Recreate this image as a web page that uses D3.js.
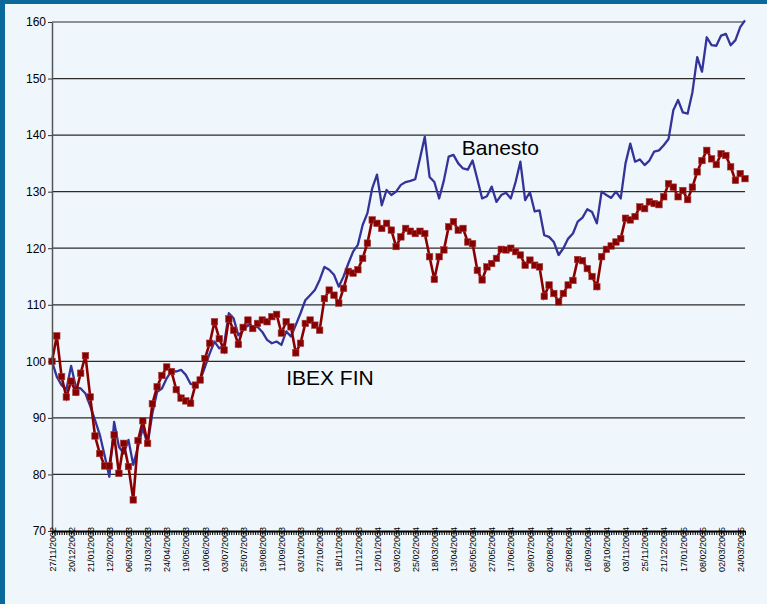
<!DOCTYPE html>
<html lang="en">
    <head>
        <meta http-equiv="Content-Type" content="text/html; charset=UTF-8" />
        <title>Banesto vs IBEX FIN</title>
        <script src="https://cdn.jsdelivr.net/npm/d3@7/dist/d3.min.js"></script>
        <style>
            html, body { margin: 0; padding: 0; background: #f0f7fc; }
            svg { display: block; font-family: Arial, "Liberation Sans", sans-serif; }
        </style>
        <script>
            // tick labels, one every 16 trading days
            const dateLabels = [
                '27/11/2002', '20/12/2002', '21/01/2003', '12/02/2003', '06/03/2003', '31/03/2003',
                '24/04/2003', '19/05/2003', '10/06/2003', '03/07/2003', '25/07/2003', '19/08/2003',
                '11/09/2003', '03/10/2003', '27/10/2003', '18/11/2003', '11/12/2003', '12/01/2004',
                '03/02/2004', '25/02/2004', '18/03/2004', '13/04/2004', '05/05/2004', '27/05/2004',
                '17/06/2004', '09/07/2004', '02/08/2004', '25/08/2004', '16/09/2004', '08/10/2004',
                '03/11/2004', '25/11/2004', '21/12/2004', '17/01/2005', '08/02/2005', '02/03/2005',
                '24/03/2005'
            ]
            const labelEvery = 16
            const tradingDays = 581
            const sampleEvery = 4   // values below are read every 4th trading day

            const yTicks = [70, 80, 90, 100, 110, 120, 130, 140, 150, 160]

            const banesto = [
                100, 97.3, 95.8, 95, 99.2, 95.4, 95.2, 94.3, 92.1, 89.6,
                87, 83.4, 79.6, 89.3, 84.9, 83.7, 86.1, 81.7, 84.9, 88.2,
                85.3, 90.8, 94.6, 95.2, 97, 98.3, 98.2, 98.5, 97.6, 96,
                95.8, 96.7, 99, 101.4, 103.5, 102.3, 102.9, 108.5, 107.6, 104.6,
                105.5, 106.4, 106.1, 106.1, 105.2, 103.8, 103.2, 103.5, 102.9, 105.3,
                104.4, 106.4, 108.5, 110.8, 111.7, 112.6, 114.4, 116.7, 116.2, 115.3,
                113.2, 115, 117.3, 119.4, 120.6, 124.1, 126.2, 130.6, 133, 127.6,
                130.3, 129.4, 130, 131.2, 131.7, 131.9, 132.2, 135.9, 139.7, 132.6,
                131.7, 128.8, 132, 136.2, 136.5, 135, 134.1, 133.9, 135.5, 132.2,
                128.8, 129.2, 130.9, 128.2, 129.4, 129.8, 128.8, 131.7, 135.3, 128.5,
                129.9, 126.5, 126.7, 122.3, 122, 121.1, 118.8, 120, 121.7, 122.6,
                124.7, 125.4, 126.9, 126.4, 124.4, 130, 129.4, 128.9, 130, 128.8,
                135, 138.5, 135.3, 135.7, 134.7, 135.5, 137.1, 137.3, 138.2, 139.3,
                144.4, 146.2, 144, 143.8, 147.6, 153.8, 151.2, 157.3, 155.9, 155.8,
                157.6, 157.9, 155.9, 156.8, 159.1, 160.3
            ]

            const ibexFin = [
                100, 104.5, 97.3, 93.7, 96.5, 94.5, 97.9, 101, 93.7, 86.8,
                83.7, 81.5, 81.5, 87, 80.2, 85.5, 81.4, 75.5, 86, 89.5,
                85.5, 92.5, 95.5, 97.5, 99, 98.2, 95, 93.5, 93, 92.6,
                95.8, 96.7, 100.5, 103.2, 107, 104, 102, 107.5, 105.5, 103,
                106, 107.3, 105.8, 106.7, 107.3, 107, 107.9, 108.3, 105, 107,
                106.1, 101.5, 103.2, 106.7, 107.3, 106.4, 105.5, 111.1, 112.6, 111.7,
                110.3, 112.9, 115.9, 115.6, 116.2, 118.2, 120.9, 125, 124.4, 123.5,
                124.4, 123.2, 120.3, 122, 123.5, 123, 122.6, 123, 122.6, 118.5,
                114.5, 118.5, 119.7, 123.8, 124.7, 123.2, 123.5, 121.1, 120.8, 116.1,
                114.4, 116.7, 117.3, 118.2, 119.8, 119.7, 120, 119.4, 118.8, 117,
                117.9, 117, 116.7, 111.5, 113.5, 112, 110.5, 112, 113.5, 114.3,
                118, 117.8, 116.4, 115, 113.2, 118.5, 119.8, 120.4, 121.1, 121.7,
                125.3, 125, 125.6, 127.3, 127, 128.2, 127.9, 127.7, 129.1, 131.4,
                130.8, 129.1, 130.2, 128.6, 130.8, 133.5, 135.5, 137.3, 135.8, 134.8,
                136.7, 136.4, 134.4, 132, 133.2, 132.3
            ]

            const state = {
                dim: [767, 604],
                margin: { top: 22, right: 22, bottom: 73, left: 52 },
                scales: { x: null, y: null }
            }

            window.onload = () => {
                draw()
            }

            function setScales() {
                const m = state.margin
                state.scales.x = d3.scaleLinear()
                    .domain([0, tradingDays - 1])
                    .range([m.left, state.dim[0] - m.right])
                state.scales.y = d3.scaleLinear()
                    .domain([70, 160])
                    .range([state.dim[1] - m.bottom, m.top])
            }

            function draw() {
                setScales()
                const x = state.scales.x
                const y = state.scales.y
                const m = state.margin
                const svg = d3.select('#chart')
                    .attr('width', state.dim[0])
                    .attr('height', state.dim[1])

                // frame
                svg.append('rect').attr('x', 0).attr('y', 0).attr('width', state.dim[0]).attr('height', state.dim[1]).style('fill', '#f0f7fc')
                svg.append('rect').attr('x', 0).attr('y', 0).attr('width', state.dim[0]).attr('height', 4).style('fill', '#0b689a')
                svg.append('rect').attr('x', 0).attr('y', 0).attr('width', 5).attr('height', state.dim[1]).style('fill', '#0b689a')

                // horizontal grid
                svg.append('g')
                    .selectAll('line')
                    .data(yTicks.filter(d => d > 70))
                    .enter()
                        .append('line')
                        .attr('x1', m.left)
                        .attr('x2', state.dim[0] - m.right)
                        .attr('y1', d => y(d))
                        .attr('y2', d => y(d))
                        .style('stroke', '#2a2a2a')
                        .style('stroke-width', 1.2)

                const bPoints = banesto.map((v, i) => ({ day: i * sampleEvery, value: v }))
                const iPoints = ibexFin.map((v, i) => ({ day: i * sampleEvery, value: v }))

                const line = d3.line()
                    .x(d => x(d.day))
                    .y(d => y(d.value))

                svg.append('path')
                    .datum(bPoints)
                    .attr('d', line)
                    .style('fill', 'none')
                    .style('stroke', '#33339a')
                    .style('stroke-width', 2.3)
                    .style('stroke-linejoin', 'round')

                svg.append('path')
                    .datum(iPoints)
                    .attr('d', line)
                    .style('fill', 'none')
                    .style('stroke', '#8a0000')
                    .style('stroke-width', 2.6)

                const sq = 6.5
                svg.append('g')
                    .selectAll('rect')
                    .data(iPoints)
                    .enter()
                        .append('rect')
                        .attr('x', d => x(d.day) - sq / 2)
                        .attr('y', d => y(d.value) - sq / 2)
                        .attr('width', sq)
                        .attr('height', sq)
                        .style('fill', '#860000')
                        .style('stroke', '#a83a3a')
                        .style('stroke-width', 0.6)

                // y axis
                const yAxis = svg.append('g')
                    .attr('transform', `translate(${m.left},0)`)
                    .call(d3.axisLeft(y).tickValues(yTicks).tickSize(4).tickPadding(2).tickSizeOuter(0))
                yAxis.select('.domain').style('stroke', '#555').style('stroke-width', 1.5)
                yAxis.selectAll('.tick line').style('stroke', '#333')
                yAxis.selectAll('text')
                    .style('font-size', '12px')
                    .style('font-family', 'Arial, "Liberation Sans", sans-serif')
                    .style('fill', '#000')

                // x axis: dense minor ticks
                const x0 = state.dim[1] - m.bottom
                const minor = d3.range(0, tradingDays, 2)
                const xMinor = svg.append('g')
                    .attr('transform', `translate(0,${x0})`)
                    .call(d3.axisBottom(x).tickValues(minor).tickSize(4).tickSizeOuter(0).tickFormat(''))
                xMinor.select('.domain').style('stroke', '#000').style('stroke-width', 2)
                xMinor.selectAll('.tick line').style('stroke', '#000').style('stroke-width', 1)

                // x axis labels
                const labelDays = dateLabels.map((d, i) => i * labelEvery)
                const xLabels = svg.append('g')
                    .attr('transform', `translate(0,${x0})`)
                    .call(d3.axisBottom(x).tickValues(labelDays).tickSize(0).tickSizeOuter(0)
                        .tickFormat((d, i) => dateLabels[i]))
                xLabels.select('.domain').remove()
                xLabels.selectAll('text')
                    .attr('transform', 'rotate(-90)')
                    .attr('x', 4)
                    .attr('y', 0)
                    .attr('dy', '0.35em')
                    .style('text-anchor', 'end')
                    .style('font-size', '9px')
                    .style('font-family', 'Arial, "Liberation Sans", sans-serif')
                    .style('fill', '#000')

                // series names
                svg.append('text')
                    .attr('x', x(343))
                    .attr('y', y(136.5))
                    .text('Banesto')
                    .style('font-size', '21px')
                    .style('fill', '#000')
                svg.append('text')
                    .attr('x', x(196))
                    .attr('y', y(95.8))
                    .text('IBEX FIN')
                    .style('font-size', '21px')
                    .style('fill', '#000')
            }
        </script>
    </head>
    <body>
        <svg id="chart"></svg>
    </body>
</html>
